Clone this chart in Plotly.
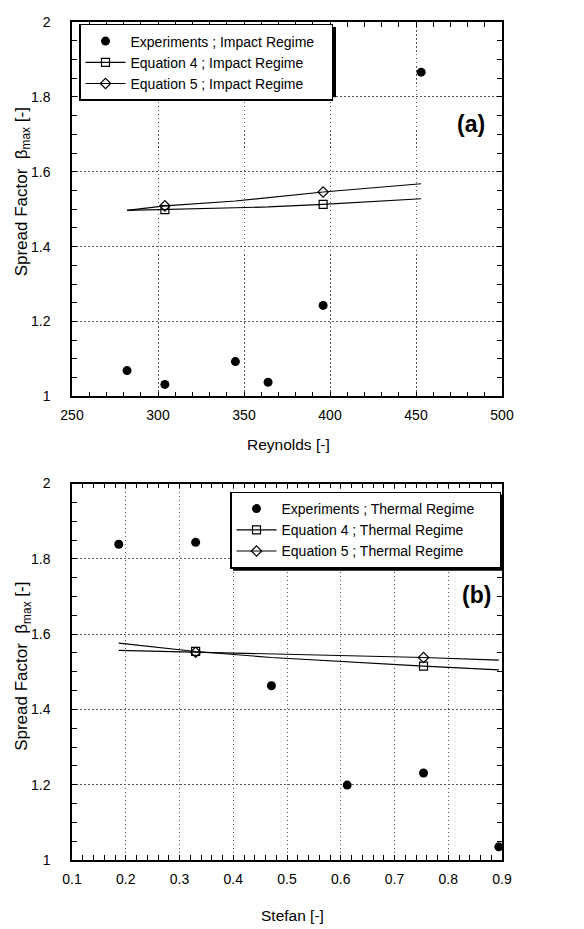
import plotly.graph_objects as go

# ---- data: panel (a) impact regime ----
re_exp = [282, 304, 345, 364, 396, 453]
beta_exp_a = [1.069, 1.032, 1.093, 1.038, 1.243, 1.866]
re_eq = [282, 304, 345, 364, 396, 453]
beta_eq4_a = [1.497, 1.499, 1.503, 1.506, 1.513, 1.528]
beta_eq5_a = [1.497, 1.509, 1.522, 1.531, 1.546, 1.568]
re_mark = [304, 396]
beta_eq4_a_mark = [1.499, 1.513]
beta_eq5_a_mark = [1.509, 1.546]

# ---- data: panel (b) thermal regime ----
ste_exp = [0.187, 0.330, 0.471, 0.612, 0.754, 0.894]
beta_exp_b = [1.839, 1.844, 1.463, 1.199, 1.231, 1.035]
ste_eq = [0.187, 0.330, 0.471, 0.612, 0.754, 0.894]
beta_eq4_b = [1.576, 1.554, 1.538, 1.526, 1.515, 1.505]
beta_eq5_b = [1.557, 1.552, 1.547, 1.543, 1.538, 1.531]
ste_mark = [0.330, 0.754]
beta_eq4_b_mark = [1.554, 1.515]
beta_eq5_b_mark = [1.552, 1.538]

FONT = "Liberation Sans, Arial, sans-serif"
LW = 1.2

fig = go.Figure()

def add_panel(xa, ya, leg, x_exp, y_exp, x_eq, y4, y5, x_m, y4m, y5m, regime, pad):
    fig.add_trace(go.Scatter(x=x_exp, y=y_exp, mode="markers", xaxis=xa, yaxis=ya,
                             marker=dict(symbol="circle", size=9, color="black"),
                             name=f"Experiments ; {regime} Regime" + "\u00a0" * pad, legend=leg))
    fig.add_trace(go.Scatter(x=x_eq, y=y4, mode="lines", xaxis=xa, yaxis=ya,
                             line=dict(color="black", width=LW), showlegend=False))
    fig.add_trace(go.Scatter(x=x_eq, y=y5, mode="lines", xaxis=xa, yaxis=ya,
                             line=dict(color="black", width=LW), showlegend=False))
    fig.add_trace(go.Scatter(x=x_m, y=y4m, mode="markers", xaxis=xa, yaxis=ya,
                             marker=dict(symbol="square-open", size=8, color="black",
                                         line=dict(width=1.2)), showlegend=False))
    fig.add_trace(go.Scatter(x=x_m, y=y5m, mode="markers", xaxis=xa, yaxis=ya,
                             marker=dict(symbol="diamond-open", size=8, color="black",
                                         line=dict(width=1.2)), showlegend=False))
    # legend-only entries
    fig.add_trace(go.Scatter(x=[None], y=[None], mode="lines+markers", xaxis=xa, yaxis=ya,
                             line=dict(color="black", width=LW),
                             marker=dict(symbol="square-open", size=8, color="black",
                                         line=dict(width=1.2)),
                             name=f"Equation 4 ; {regime} Regime", legend=leg))
    fig.add_trace(go.Scatter(x=[None], y=[None], mode="lines+markers", xaxis=xa, yaxis=ya,
                             line=dict(color="black", width=LW),
                             marker=dict(symbol="diamond-open", size=8, color="black",
                                         line=dict(width=1.2)),
                             name=f"Equation 5 ; {regime} Regime", legend=leg))

add_panel("x", "y", "legend", re_exp, beta_exp_a, re_eq, beta_eq4_a, beta_eq5_a,
          re_mark, beta_eq4_a_mark, beta_eq5_a_mark, "Impact", 3)
add_panel("x2", "y2", "legend2", ste_exp, beta_exp_b, ste_eq, beta_eq4_b, beta_eq5_b,
          ste_mark, beta_eq4_b_mark, beta_eq5_b_mark, "Thermal", 5)

axis_common = dict(
    showline=True, linecolor="black", linewidth=1.5, mirror="allticks",
    ticks="inside", ticklen=5, tickwidth=1, tickcolor="black",
    showgrid=True, gridcolor="#555555", gridwidth=1, griddash="1.5px,2.5px",
    zeroline=False, tickfont=dict(family=FONT, size=14, color="black"),
)

# page has an 8px body margin: work in reference pixels, shift by OFF
OFF = 8
W, H = 584 - OFF, 929 - OFF
PL, PR, PT, PB = 72, 502, 14, 860          # plot area in reference pixels
L, R, T, B = PL - OFF, W - (PR - OFF), PT - OFF, H - (PB - OFF)
ph = H - T - B
pw = W - L - R

def py(Y):
    return ((PB - OFF) - (Y - OFF)) / ph

def pxr(X):
    return ((X - OFF) - (PL - OFF)) / pw

fig.update_layout(
    width=W, height=H, margin=dict(l=L, r=R, t=T, b=B),
    paper_bgcolor="white", plot_bgcolor="white",
    font=dict(family=FONT, size=14, color="black"),
    xaxis=dict(axis_common, range=[250, 500], dtick=50, anchor="y",
               minor=dict(dtick=10, ticks="inside", ticklen=5, tickcolor="black", showgrid=False),
               ticklabelstandoff=5),
    yaxis=dict(axis_common, range=[1, 2], dtick=0.2, anchor="x", domain=[py(392), 1],
               minor=dict(dtick=0.05, ticks="inside", ticklen=5, tickcolor="black", showgrid=False),
               ticklabelstandoff=17),
    xaxis2=dict(axis_common, range=[0.1, 0.9], dtick=0.1, anchor="y2",
                minor=dict(dtick=0.02, ticks="inside", ticklen=5, tickcolor="black", showgrid=False),
                ticklabelstandoff=5),
    yaxis2=dict(axis_common, range=[1, 2], dtick=0.2, anchor="x2", domain=[0, py(480)],
                minor=dict(dtick=0.05, ticks="inside", ticklen=5, tickcolor="black", showgrid=False),
                ticklabelstandoff=17),
    legend=dict(x=pxr(79), y=py(16), xanchor="left", yanchor="top",
                bgcolor="white", bordercolor="black", borderwidth=1.5,
                font=dict(family=FONT, size=14, color="black"), itemwidth=40,
                tracegroupgap=0),
    legend2=dict(x=pxr(230), y=py(488), xanchor="left", yanchor="top",
                 bgcolor="white", bordercolor="black", borderwidth=1.5,
                 font=dict(family=FONT, size=14, color="black"), itemwidth=40,
                 tracegroupgap=0),
    showlegend=True,
)

# legend drop shadows
for (x0, y0, x1, y1) in [(82, 19, 336, 90), (233, 491, 503, 568)]:
    fig.add_shape(type="rect", xref="paper", yref="paper",
                  x0=pxr(x0), x1=pxr(x1), y0=py(y1), y1=py(y0),
                  fillcolor="black", line=dict(width=0), layer="above")

ytitle = "Spread Factor  β<sub>max</sub> [-]"
for yc in (186, 665):
    fig.add_annotation(text=ytitle, xref="paper", yref="paper", x=pxr(23), y=py(yc),
                       xanchor="center", yanchor="middle",
                       textangle=-90, showarrow=False, font=dict(family=FONT, size=17))
fig.add_annotation(text="Reynolds [-]", xref="paper", yref="paper", x=pxr(288), y=py(441),
                   xanchor="center", yanchor="middle",
                   showarrow=False, font=dict(family=FONT, size=15.5))
fig.add_annotation(text="Stefan [-]", xref="paper", yref="paper", x=pxr(292), y=py(916),
                   xanchor="center", yanchor="middle",
                   showarrow=False, font=dict(family=FONT, size=15.5))
fig.add_annotation(text="<b>(a)</b>", xref="x", yref="y", x=482, y=1.727,
                   xanchor="center", yanchor="middle",
                   showarrow=False, font=dict(family=FONT, size=23))
fig.add_annotation(text="<b>(b)</b>", xref="x2", yref="y2", x=0.852, y=1.703,
                   xanchor="center", yanchor="middle",
                   showarrow=False, font=dict(family=FONT, size=23))

fig.write_html("out.html")
